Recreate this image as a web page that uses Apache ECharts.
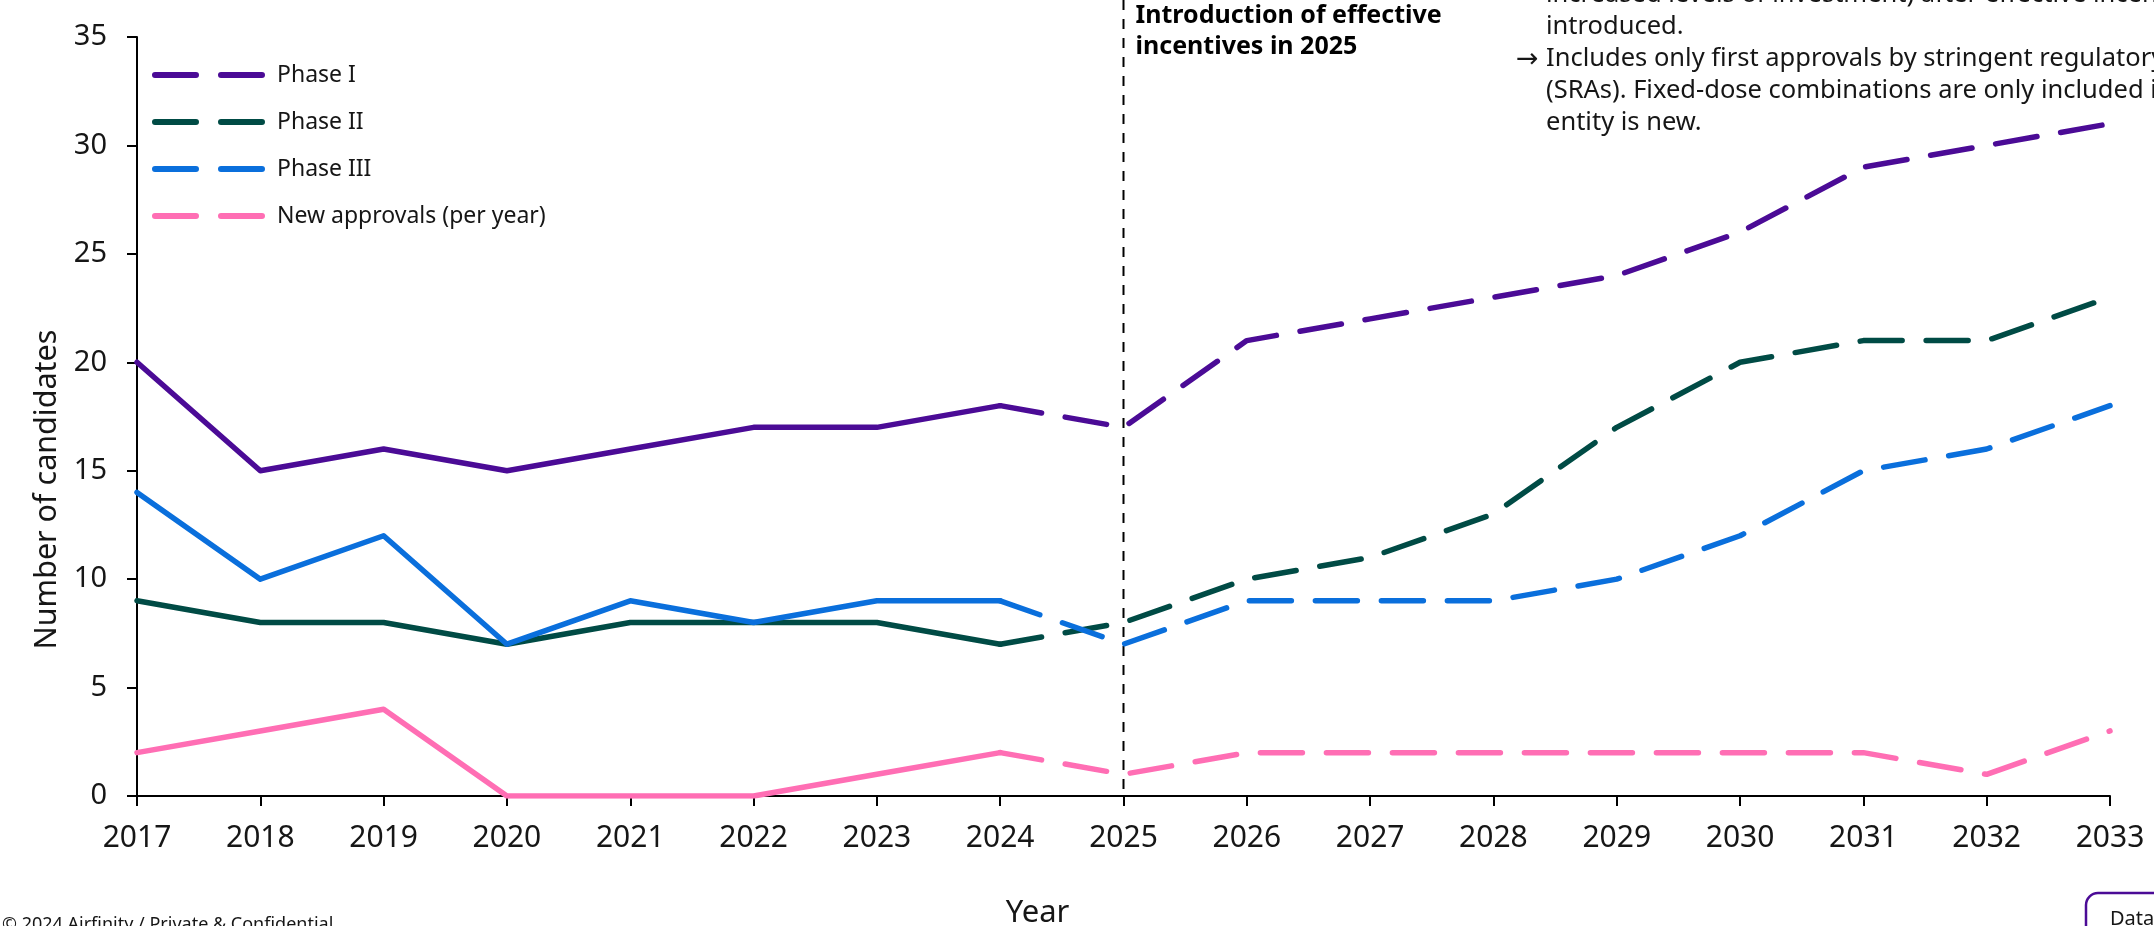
<!DOCTYPE html>
<html>
<head>
<meta charset="utf-8">
<title>Candidates by phase</title>
<script src="https://cdn.jsdelivr.net/npm/echarts@6/dist/echarts.min.js"></script>
<style>
    html, body { margin: 0; padding: 0; background: #fff; }
    #main { width: 2154px; height: 926px; }
</style>
</head>
<body>
<div id="main"></div>
<script>
// chart data
const years = ['2017', '2018', '2019', '2020', '2021', '2022', '2023', '2024', '2025',
    '2026', '2027', '2028', '2029', '2030', '2031', '2032', '2033'];
const phase1 = [20, 15, 16, 15, 16, 17, 17, 18, 17, 21, 22, 23, 24, 26, 29, 30, 31];
const phase2 = [9, 8, 8, 7, 8, 8, 8, 7, 8, 10, 11, 13, 17, 20, 21, 21, 23];
const phase3 = [14, 10, 12, 7, 9, 8, 9, 9, 7, 9, 9, 9, 10, 12, 15, 16, 18];
const approvals = [2, 3, 4, 0, 0, 0, 1, 2, 1, 2, 2, 2, 2, 2, 2, 1, 3];
const yMin = 0;
const yMax = 35;
const yStep = 5;
const lastActualYear = '2024';
const incentiveYear = '2025';

const seriesDefs = [
    { name: 'Phase I', color: '#4b0b96', values: phase1 },
    { name: 'Phase II', color: '#004b45', values: phase2 },
    { name: 'Phase III', color: '#0a6fdc', values: phase3 },
    { name: 'New approvals (per year)', color: '#ff6eb4', values: approvals }
];

const FONT = '"Noto Sans", "Open Sans", sans-serif';
const TEXT = '#161616';
const dashIcon = 'path://M3,0 H44 A3,3 0 0 1 44,6 H3 A3,3 0 0 1 3,0 Z M69,0 H110 A3,3 0 0 1 110,6 H69 A3,3 0 0 1 69,0 Z';

const splitAt = years.indexOf(lastActualYear);

let series = [];
seriesDefs.forEach(function (d) {
    // actuals up to 2024, solid
    series.push({
        name: d.name,
        type: 'line',
        symbol: 'none',
        color: d.color,
        lineStyle: { width: 5.5, color: d.color, join: 'round', cap: 'round' },
        data: d.values.map(function (v, i) { return i <= splitAt ? v : '-'; })
    });
    // forecast from 2024 on, dashed
    series.push({
        name: d.name,
        type: 'line',
        symbol: 'none',
        color: d.color,
        lineStyle: { width: 5.5, color: d.color, type: [42, 24], cap: 'round', join: 'round' },
        data: d.values.map(function (v, i) { return i >= splitAt ? v : '-'; })
    });
});

const notes = [
    'increased levels of investment) after effective incentives are',
    'introduced.',
    'Includes only first approvals by stringent regulatory authorities',
    '(SRAs). Fixed-dose combinations are only included if one molecular',
    'entity is new.'
];

let myChart = echarts.init(document.getElementById('main'));
myChart.setOption({
    animation: false,
    backgroundColor: '#fff',
    textStyle: { fontFamily: FONT, color: TEXT },
    grid: { left: 137, right: 44, top: 37, bottom: 130, outerBoundsMode: 'none' },
    legend: {
        orient: 'vertical',
        left: 152,
        top: 62,
        padding: 0,
        itemWidth: 113,
        itemHeight: 6,
        itemGap: 21,
        itemStyle: { borderWidth: 0 },
        textStyle: { fontFamily: FONT, fontSize: 23, color: TEXT, lineHeight: 26, padding: [0, 0, 0, 7] },
        data: seriesDefs.map(function (d) { return { name: d.name, icon: dashIcon }; })
    },
    xAxis: {
        type: 'category',
        data: years,
        boundaryGap: false,
        name: 'Year',
        nameLocation: 'middle',
        nameGap: 102,
        nameTextStyle: { fontFamily: FONT, fontSize: 31, color: TEXT, padding: [0, 172, 0, 0] },
        axisLine: { lineStyle: { color: '#000', width: 2 } },
        axisTick: { length: 10, interval: 0, lineStyle: { color: '#000', width: 2 } },
        axisLabel: { fontFamily: FONT, fontSize: 30, color: TEXT, margin: 27, interval: 0 },
        splitLine: { show: false }
    },
    yAxis: {
        type: 'value',
        min: yMin,
        max: yMax,
        interval: yStep,
        name: 'Number of candidates',
        nameLocation: 'middle',
        nameGap: 70,
        nameRotate: 90,
        nameTextStyle: { fontFamily: FONT, fontSize: 30.5, color: TEXT, padding: [0, 146, 0, 0] },
        axisLine: { show: true, lineStyle: { color: '#000', width: 2 } },
        axisTick: { show: true, length: 10, lineStyle: { color: '#000', width: 2 } },
        axisLabel: { fontFamily: FONT, fontSize: 29, color: TEXT, margin: 30 },
        splitLine: { show: false }
    },
    series: series
});

// vertical marker and annotations, placed from the axes
const xLine = myChart.convertToPixel({ xAxisIndex: 0 }, incentiveYear);
const yBase = myChart.convertToPixel({ yAxisIndex: 0 }, yMin);

myChart.setOption({
    graphic: [
        {
            type: 'line',
            z: 1,
            shape: { x1: xLine, y1: 0, x2: xLine, y2: yBase },
            style: { stroke: '#000', lineWidth: 2, lineDash: [10, 9] }
        },
        {
            type: 'text',
            x: xLine + 12,
            y: 0,
            style: {
                text: 'Introduction of effective\nincentives in 2025',
                font: 'bold 25px ' + FONT,
                fill: '#000',
                lineHeight: 31,
                verticalAlign: 'top'
            }
        },
        {
            type: 'text',
            x: 1516,
            y: 44,
            style: { text: '\u2192', font: '27px "DejaVu Sans", sans-serif', fill: TEXT, verticalAlign: 'top', lineHeight: 32 }
        },
        {
            type: 'text',
            x: 1546,
            y: -21,
            style: {
                text: notes.join('\n'),
                font: '25.5px ' + FONT,
                fill: TEXT,
                lineHeight: 32,
                verticalAlign: 'top'
            }
        },
        {
            type: 'text',
            x: 2,
            y: 916,
            style: { text: '\u00a9 2024 Airfinity / Private & Confidential', font: '18px ' + FONT, fill: TEXT, verticalAlign: 'top' }
        },
        {
            type: 'rect',
            shape: { x: 2086, y: 893, width: 200, height: 100, r: 12 },
            style: { fill: 'none', stroke: '#4b0b96', lineWidth: 2.5 }
        },
        {
            type: 'text',
            x: 2110,
            y: 909,
            style: { text: 'Data:', font: '20px ' + FONT, fill: TEXT, verticalAlign: 'top' }
        }
    ]
});
</script>
</body>
</html>
